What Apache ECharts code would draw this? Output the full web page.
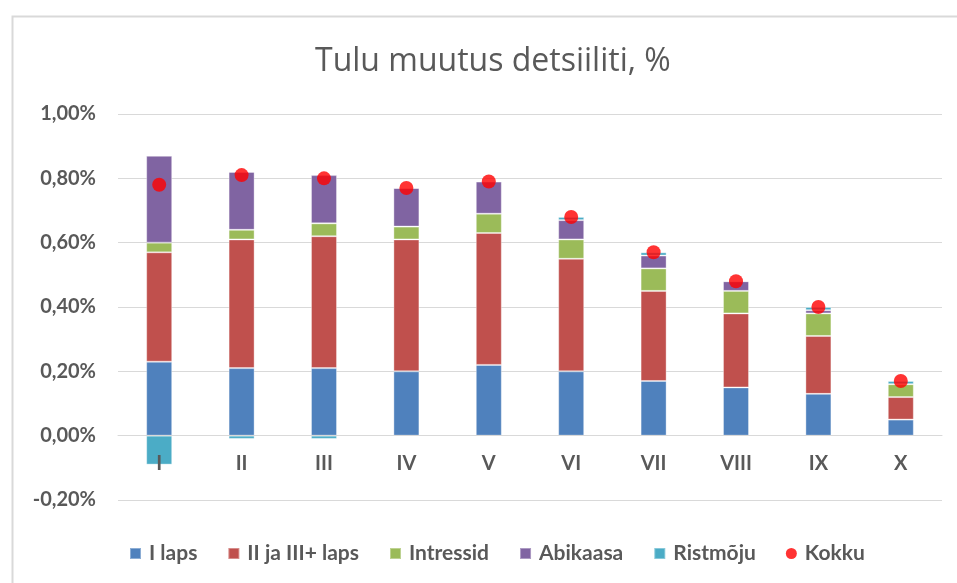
<!DOCTYPE html>
<html>
<head>
<meta charset="utf-8">
<script src="https://cdn.jsdelivr.net/npm/echarts@6/dist/echarts.min.js"></script>
<style>
html,body{margin:0;padding:0;background:#fff;}
#chart{width:957px;height:583px;}
</style>
</head>
<body>
<div id="chart"></div>
<script>
var categories = ['I','II','III','IV','V','VI','VII','VIII','IX','X'];
var iLaps      = [0.23, 0.21, 0.21, 0.20, 0.22, 0.20, 0.17, 0.15, 0.13, 0.05];
var iiJaIII    = [0.34, 0.40, 0.41, 0.41, 0.41, 0.35, 0.28, 0.23, 0.18, 0.07];
var intressid  = [0.03, 0.03, 0.04, 0.04, 0.06, 0.06, 0.07, 0.07, 0.07, 0.04];
var abikaasa   = [0.27, 0.18, 0.15, 0.12, 0.10, 0.06, 0.04, 0.03, 0.01, 0.00];
var ristmoju   = [-0.09, -0.01, -0.01, 0.00, 0.00, 0.01, 0.01, 0.00, 0.01, 0.01];
var kokku      = [0.78, 0.81, 0.80, 0.77, 0.79, 0.68, 0.57, 0.48, 0.40, 0.17];
var yTicks = { min: -0.2, max: 1.0, interval: 0.2 };

var textColor = '#595959';
var fontFam = 'Lato, "Open Sans", sans-serif';
var gridTop = 114, gridBottom = 83, chartH = 583;
var gridH = chartH - gridTop - gridBottom;
// move category axis (line + labels) up to the zero line of the value axis
var zeroOffset = -gridH * (0 - yTicks.min) / (yTicks.max - yTicks.min);

function fmt(v){
  if (Math.abs(v) < 1e-9) v = 0;
  return v.toFixed(2).replace('.', ',') + '%';
}

function barSeries(name, data, color){
  return {
    name: name, type: 'bar', stack: 'total', data: data, barWidth: 26,
    itemStyle: { color: color, borderColor: 'rgba(255,255,255,0.35)', borderWidth: 1 },
    emphasis: { disabled: true }
  };
}

var chart = echarts.init(document.getElementById('chart'), null, {renderer: 'canvas'});
chart.setOption({
  animation: false,
  backgroundColor: '#fff',
  graphic: [{
    type: 'rect', left: 10, top: 14, shape: { width: 1000, height: 700 },
    style: { fill: 'none', stroke: '#d9d9d9', lineWidth: 2 }, silent: true, z: -10
  }],
  title: {
    text: 'Tulu muutus detsiiliti, %',
    left: 310, top: 41,
    textStyle: { color: textColor, fontSize: 32, fontWeight: 'normal', fontFamily: '"Open Sans", sans-serif' }
  },
  legend: {
    top: 538, left: 124,
    itemWidth: 11, itemHeight: 11, itemGap: 30,
    textStyle: { color: textColor, fontSize: 21, fontWeight: 'bold', fontFamily: fontFam, padding: [0, 0, 0, 3] },
    data: [
      { name: 'I laps', icon: 'rect' },
      { name: 'II ja III+ laps', icon: 'rect' },
      { name: 'Intressid', icon: 'rect' },
      { name: 'Abikaasa', icon: 'rect' },
      { name: 'Ristmõju', icon: 'rect' },
      { name: 'Kokku', icon: 'circle' }
    ]
  },
  grid: { left: 118, right: 15, top: gridTop, bottom: gridBottom, containLabel: false },
  xAxis: {
    type: 'category', data: categories,
    offset: zeroOffset, z: 5,
    axisLine: { onZero: false, lineStyle: { color: '#d9d9d9', width: 1 } },
    axisTick: { show: false },
    axisLabel: { color: textColor, fontSize: 20, fontWeight: 'bold', fontFamily: fontFam, margin: 18 }
  },
  yAxis: {
    type: 'value', min: yTicks.min, max: yTicks.max, interval: yTicks.interval,
    axisLine: { show: false }, axisTick: { show: false },
    splitLine: { lineStyle: { color: '#d9d9d9', width: 1 } },
    axisLabel: { color: textColor, fontSize: 20, fontWeight: 'bold', fontFamily: fontFam, margin: 22, formatter: fmt }
  },
  series: [
    barSeries('I laps', iLaps, '#4F81BD'),
    barSeries('II ja III+ laps', iiJaIII, '#C0504D'),
    barSeries('Intressid', intressid, '#9BBB59'),
    barSeries('Abikaasa', abikaasa, '#8064A2'),
    barSeries('Ristmõju', ristmoju, '#4BACC6'),
    {
      name: 'Kokku', type: 'scatter', data: kokku, symbol: 'circle', symbolSize: 14, z: 10,
      itemStyle: { color: '#FF0000' }, emphasis: { disabled: true }
    }
  ]
});
</script>
</body>
</html>
